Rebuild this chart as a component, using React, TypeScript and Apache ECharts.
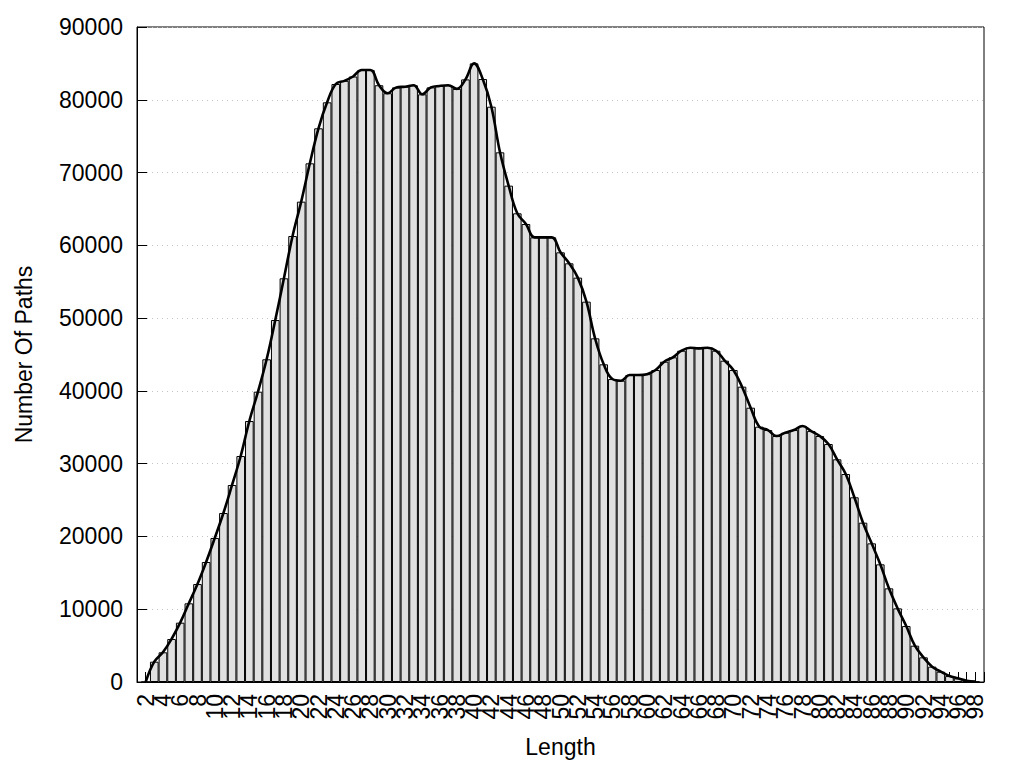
import React, { useEffect, useRef } from "react";
import * as echarts from "echarts";

// Path length categories (x values)
const lengths = [
  2, 3, 4, 5, 6, 7, 8, 9, 10, 11, 12, 13, 14, 15, 16, 17, 18, 19, 20,
  21, 22, 23, 24, 25, 26, 27, 28, 29, 30, 31, 32, 33, 34, 35, 36, 37, 38, 39, 40,
  41, 42, 43, 44, 45, 46, 47, 48, 49, 50, 51, 52, 53, 54, 55, 56, 57, 58, 59, 60,
  61, 62, 63, 64, 65, 66, 67, 68, 69, 70, 71, 72, 73, 74, 75, 76, 77, 78, 79, 80,
  81, 82, 83, 84, 85, 86, 87, 88, 89, 90, 91, 92, 93, 94, 95, 96, 97, 98,
];

// Number of paths for each length
const pathCounts = [
  0, 2790, 4080, 5910, 8150, 10810, 13460, 16490, 19790, 23220, 27070, 31050, 35860, 39890, 44340, 49740, 55470, 61280, 66000,
  71270, 76080, 79650, 82170, 82600, 83200, 84100, 84100, 82000, 80900, 81700, 81800, 82000, 80750, 81700, 81900, 82000, 81500, 82800, 85000,
  82850, 79050, 72780, 68200, 64400, 62930, 61100, 61100, 61100, 59040, 57530, 55560, 52260, 47220, 43650, 41630, 41400, 42180, 42180, 42300,
  42870, 44010, 44610, 45520, 45930, 45840, 45930, 45520, 44150, 42870, 40580, 37690, 35080, 34620, 33800, 34250, 34620, 35170, 34480, 33800,
  32700, 30600, 28580, 25380, 21890, 19050, 16170, 12870, 10120, 7690, 4990, 3390, 2110, 1420, 820, 500, 180, 50,
];

const X_MIN = 1;
const X_MAX = 99;
const Y_MIN = 0;
const Y_MAX = 90000;
const Y_STEP = 10000;

const GRID = { left: 137, right: 40, top: 27, bottom: 86 };
const CHART_W = 1024;
const CHART_H = 768;
const FONT = "Liberation Sans, Arial, sans-serif";
const FS = 23;

export default function App() {
  const ref = useRef<HTMLDivElement>(null);

  useEffect(() => {
    if (!ref.current) return;
    const chart = echarts.init(ref.current, undefined, { renderer: "svg" });
    const gridW = CHART_W - GRID.left - GRID.right;
    const barW = gridW / (X_MAX - X_MIN);
    const pts = lengths.map((l, i) => [l, pathCounts[i]]);

    chart.setOption({
      animation: false,
      backgroundColor: "#fff",
      textStyle: { fontFamily: FONT, color: "#000" },
      grid: {
        ...GRID,
        show: true,
        borderColor: "#000",
        borderWidth: 1,
        backgroundColor: "transparent",
        containLabel: false,
        outerBoundsMode: "none",
      },
      xAxis: {
        type: "value",
        min: X_MIN,
        max: X_MAX,
        interval: 1,
        name: "Length",
        nameLocation: "middle",
        nameGap: 53,
        nameTextStyle: { fontSize: FS, color: "#000", fontFamily: FONT },
        axisLine: { show: true, lineStyle: { color: "#000", width: 1 } },
        axisTick: { show: true, inside: true, length: 10, lineStyle: { color: "#000" } },
        axisLabel: {
          rotate: 90,
          margin: 12,
          fontSize: FS,
          color: "#000",
          fontFamily: FONT,
          showMinLabel: true,
          showMaxLabel: true,
          formatter: (v: number) =>
            v >= 2 && v <= 98 && v % 2 === 0 ? String(v) : "",
        },
        splitLine: { show: false },
      },
      yAxis: {
        type: "value",
        min: Y_MIN,
        max: Y_MAX,
        interval: Y_STEP,
        name: "Number Of Paths",
        nameLocation: "middle",
        nameGap: 102,
        nameTextStyle: { fontSize: FS, color: "#000", fontFamily: FONT },
        axisLine: { show: true, lineStyle: { color: "#000", width: 1 } },
        axisTick: { show: true, inside: true, length: 10, lineStyle: { color: "#000" } },
        axisLabel: {
          fontSize: FS,
          margin: 14,
          color: "#000",
          fontFamily: FONT,
          formatter: (v: number) => String(v),
        },
        splitLine: {
          show: true,
          lineStyle: { color: "#c4c4c4", type: [1, 4], width: 1 },
        },
      },
      series: [
        {
          type: "bar",
          data: pts,
          barWidth: barW,
          itemStyle: { color: "#e0e0e0", borderColor: "#000", borderWidth: 1 },
          z: 2,
        },
        {
          type: "line",
          data: pts,
          smooth: 0.4,
          showSymbol: false,
          symbol: "none",
          lineStyle: { color: "#000", width: 2.6 },
          z: 3,
        },
      ],
    });
    return () => chart.dispose();
  }, []);

  return (
    <div
      ref={ref}
      style={{ position: "absolute", left: 0, top: 0, width: CHART_W, height: CHART_H }}
    />
  );
}
